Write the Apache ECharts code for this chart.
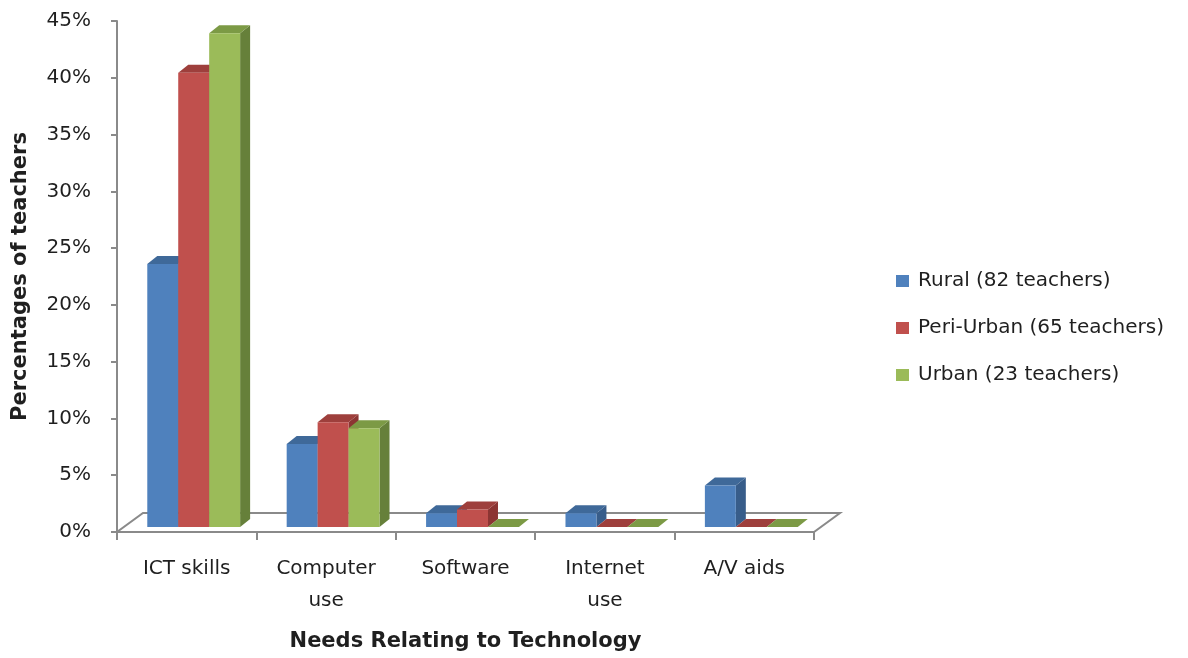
<!DOCTYPE html>
<html>
<head>
<meta charset="utf-8">
<script src="https://cdn.jsdelivr.net/npm/echarts@6/dist/echarts.min.js"></script>
<style>
  html, body { margin: 0; padding: 0; background: #fff; }
  #chart { width: 1188px; height: 658px; }
</style>
</head>
<body>
<div id="chart"></div>
<script>
// Needs relating to technology, share of teachers per school location (%)
const categories = ['ICT skills', 'Computer\nuse', 'Software', 'Internet\nuse', 'A/V aids'];
const seriesNames = ['Rural (82 teachers)', 'Peri-Urban (65 teachers)', 'Urban (23 teachers)'];
const rural = [23.17, 7.32, 1.22, 1.22, 3.66];
const periUrban = [40.0, 9.23, 1.54, 0, 0];
const urban = [43.48, 8.70, 0, 0, 0];
const yTicks = { min: 0, max: 45, interval: 5 };

const FONT = 'DejaVu Sans';
const TEXT = '#1f1f1f';
const AXIS = '#8a8a8a';

// face colours: front, top, side
const palette = [
  { front: '#4F81BD', top: '#3F6999', side: '#385D8A' },
  { front: '#C0504D', top: '#9E3F3C', side: '#8C3533' },
  { front: '#9BBB59', top: '#7C9A45', side: '#66803A' }
];

// pseudo-3D depth of floor and bars, in pixels
const FLOOR_DX = 26, FLOOR_DY = 19;
const BAR_OFF_X = 7, BAR_OFF_Y = 5;
const BAR_DX = 10, BAR_DY = 8;
const BAR_FRAC = 0.222;

function barRenderer(seriesIdx) {
  const col = palette[seriesIdx];
  return function (params, api) {
    const cat = api.value(0);
    const val = api.value(1);
    const base = api.coord([cat, 0]);
    const top = api.coord([cat, val]);
    const catW = api.size([1, 0])[0];
    const w = catW * BAR_FRAC;
    const x0 = base[0] + (seriesIdx - 1.5) * w + BAR_OFF_X;
    const x1 = x0 + w;
    const yb = base[1] - BAR_OFF_Y;
    const yt = top[1] - BAR_OFF_Y;
    const children = [];
    if (yb - yt > 0.5) {
      children.push({
        type: 'polygon',
        shape: { points: [[x1, yt], [x1 + BAR_DX, yt - BAR_DY], [x1 + BAR_DX, yb - BAR_DY], [x1, yb]] },
        style: { fill: col.side }
      });
    }
    children.push({
      type: 'polygon',
      shape: { points: [[x0, yt], [x1, yt], [x1 + BAR_DX, yt - BAR_DY], [x0 + BAR_DX, yt - BAR_DY]] },
      style: { fill: col.top }
    });
    if (yb - yt > 0.5) {
      children.push({
        type: 'rect',
        shape: { x: x0, y: yt, width: w, height: yb - yt },
        style: { fill: col.front }
      });
    }
    return { type: 'group', children: children };
  };
}

function floorRenderer(params, api) {
  const cs = params.coordSys;
  const xl = cs.x, xr = cs.x + cs.width, yf = cs.y + cs.height;
  return {
    type: 'polygon',
    shape: { points: [[xl, yf], [xr, yf], [xr + FLOOR_DX, yf - FLOOR_DY], [xl + FLOOR_DX, yf - FLOOR_DY]] },
    style: { fill: '#ffffff', stroke: AXIS, lineWidth: 2, lineJoin: 'miter' }
  };
}

const dataSets = [rural, periUrban, urban];

const chart = echarts.init(document.getElementById('chart'), null, { renderer: 'canvas' });
chart.setOption({
  backgroundColor: '#ffffff',
  animation: false,
  textStyle: { fontFamily: FONT, color: TEXT },
  grid: { left: 117, right: 374, top: 21, bottom: 126 },
  legend: {
    orient: 'vertical',
    left: 891,
    top: 266,
    icon: 'rect',
    itemWidth: 13,
    itemHeight: 12,
    itemGap: 27,
    data: seriesNames,
    textStyle: { fontFamily: FONT, fontSize: 20, color: TEXT, lineHeight: 20, padding: [0, 0, 0, 4] }
  },
  xAxis: {
    type: 'category',
    data: categories,
    name: 'Needs Relating to Technology',
    nameLocation: 'middle',
    nameGap: 99,
    nameTextStyle: { fontFamily: FONT, fontSize: 21, fontWeight: 'bold', color: TEXT, verticalAlign: 'top' },
    axisLine: { show: true, lineStyle: { color: AXIS, width: 2 } },
    axisTick: { show: true, length: 8, lineStyle: { color: AXIS, width: 2 } },
    axisLabel: { fontFamily: FONT, fontSize: 20, color: TEXT, margin: 21, lineHeight: 32 },
    splitLine: { show: false }
  },
  yAxis: {
    type: 'value',
    min: yTicks.min,
    max: yTicks.max,
    interval: yTicks.interval,
    name: 'Percentages of teachers',
    nameLocation: 'middle',
    nameGap: 86,
    nameRotate: 90,
    nameTextStyle: { fontFamily: FONT, fontSize: 21, fontWeight: 'bold', color: TEXT },
    axisLine: { show: true, lineStyle: { color: AXIS, width: 2 } },
    axisTick: { show: true, inside: false, length: 6, lineStyle: { color: AXIS, width: 2 } },
    axisLabel: { fontFamily: FONT, fontSize: 20, color: TEXT, margin: 26, padding: [6, 0, 0, 0], formatter: '{value}%' },
    splitLine: { show: false }
  },
  series: [
    {
      type: 'custom',
      name: 'floor',
      renderItem: floorRenderer,
      data: [[0, 0]],
      z: 1,
      silent: true
    }
  ].concat(dataSets.map(function (vals, i) {
    return {
      type: 'custom',
      name: seriesNames[i],
      itemStyle: { color: palette[i].front },
      renderItem: barRenderer(i),
      encode: { x: 0, y: 1 },
      data: vals.map(function (v, k) { return [k, v]; }),
      z: 2 + i
    };
  }))
});
</script>
</body>
</html>
